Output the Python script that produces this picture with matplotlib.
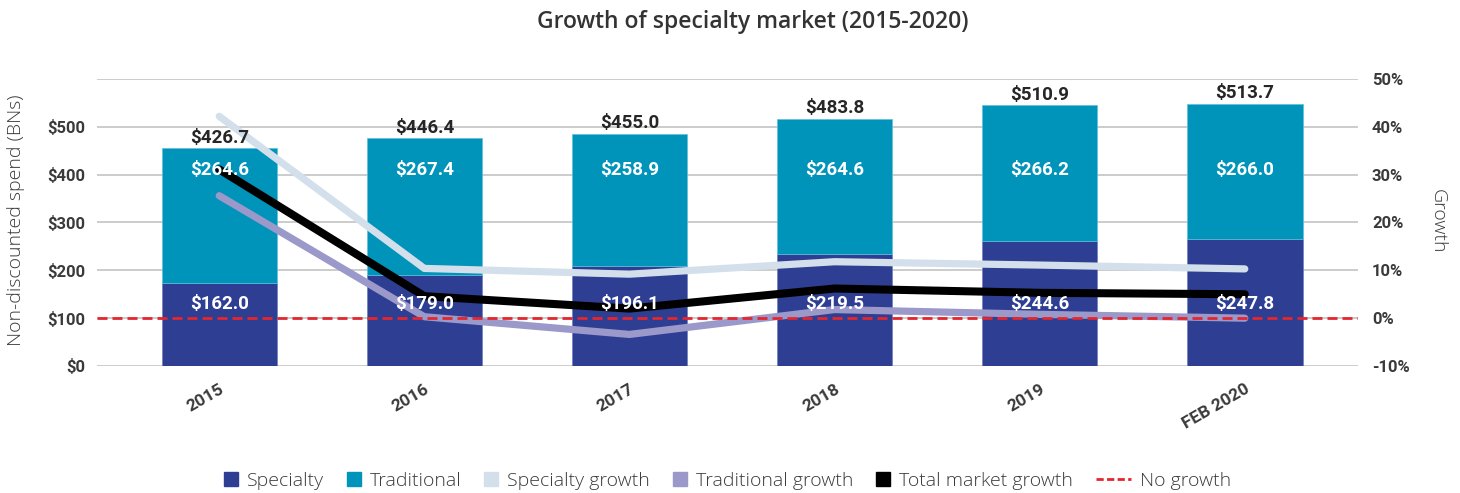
import matplotlib.pyplot as plt
import numpy as np
from matplotlib.patches import Patch
from matplotlib.lines import Line2D
from matplotlib.legend_handler import HandlerLine2D

years = ["2015", "2016", "2017", "2018", "2019", "FEB 2020"]
specialty = [162.0, 179.0, 196.1, 219.5, 244.6, 247.8]
traditional = [264.6, 267.4, 258.9, 264.6, 266.2, 266.0]
totals = [426.7, 446.4, 455.0, 483.8, 510.9, 513.7]

# growth in %
specialty_growth = [42.2, 10.4, 9.2, 11.8, 11.1, 10.3]
traditional_growth = [25.6, 0.3, -3.4, 1.8, 0.8, 0.0]
total_growth = [31.1, 4.6, 2.0, 6.2, 5.3, 5.0]

dollar_ticks = [0, 100, 200, 300, 400, 500, 600]
growth_ticks = [-10, 0, 10, 20, 30, 40, 50]

c_spec = '#2E3E93'
c_trad = '#0094BA'
c_spec_g = '#D3E0EB'
c_trad_g = '#9B98CA'
c_red = '#E4262E'
txt = '#3A3A3A'

bold_font = ['Roboto', 'DejaVu Sans']
light_font = ['Open Sans', 'DejaVu Sans']

# the bars in the source are drawn on a slightly different scale than
# the dollar tick labels suggest, keep that look
tick_scale = 0.937


class WideLineHandler(HandlerLine2D):
    def legend_artist(self, legend, orig_handle, fontsize, handlebox):
        handlebox.width = handlebox.width * 2.5
        return super().legend_artist(legend, orig_handle, fontsize, handlebox)


fig = plt.figure(figsize=(14.6, 4.93), dpi=100)
ax = fig.add_axes([97 / 1460, 127 / 493, 1261 / 1460, 287 / 493])
ax2 = ax.twinx()

x = np.arange(len(years))
ax.bar(x, specialty, width=0.563, color=c_spec, edgecolor='#6F7FC0', linewidth=0.5, zorder=2)
ax.bar(x, traditional, width=0.563, bottom=specialty, color=c_trad, edgecolor='#5FC0DA',
       linewidth=0.5, zorder=2)

ax.set_xlim(-0.596, len(years) - 1 + 0.552)
ax.set_ylim(0, dollar_ticks[-1] * tick_scale)
ax.set_yticks(np.array(dollar_ticks) * tick_scale)
ax.set_yticklabels(['$%d' % v for v in dollar_ticks[:-1]] + [''])
ax.grid(axis='y', color='#BFBFBF', linewidth=1.1, zorder=0)
ax.set_axisbelow(True)
ax.tick_params(axis='y', length=0, pad=8.6, labelsize=12, labelcolor=txt)
for lab in ax.get_yticklabels():
    lab.set_family(bold_font)
    lab.set_fontweight('bold')

ax.set_xticks(x)
ax.set_xticklabels(years, rotation=30, ha='right', va='top', rotation_mode='anchor')
ax.tick_params(axis='x', length=0, pad=11, labelsize=12.5, labelcolor=txt)
for lab in ax.get_xticklabels():
    lab.set_family(bold_font)
    lab.set_fontweight('bold')

ax2.plot(x, specialty_growth, color=c_spec_g, lw=5.2, solid_capstyle='round',
         solid_joinstyle='round', zorder=3)
ax2.plot(x, traditional_growth, color=c_trad_g, lw=5.2, solid_capstyle='round',
         solid_joinstyle='round', zorder=4)
ax2.plot(x, total_growth, color='black', lw=5.8, solid_capstyle='round',
         solid_joinstyle='round', zorder=5)
ax2.axhline(0, color=c_red, lw=2, dashes=(3.6, 1.8), zorder=6)
ax2.set_ylim(growth_ticks[0], growth_ticks[-1])
ax2.set_yticks(growth_ticks)
ax2.set_yticklabels(['%d%%' % v for v in growth_ticks])
ax2.tick_params(axis='y', length=0, pad=10, labelsize=12, labelcolor=txt)
for lab in ax2.get_yticklabels():
    lab.set_family(bold_font)
    lab.set_fontweight('bold')

for a in (ax, ax2):
    for s in a.spines.values():
        s.set_visible(False)

# value labels (on ax2 so they sit above the lines)
xt = ax2.get_xaxis_transform()
for i in range(len(years)):
    ax2.text(x[i], 0.216, '$%.1f' % specialty[i], transform=xt, ha='center', va='center',
             color='white', fontsize=13.5, fontweight='bold', family=bold_font, zorder=10)
    ax2.text(x[i], 0.683, '$%.1f' % traditional[i], transform=xt, ha='center', va='center',
             color='white', fontsize=13.5, fontweight='bold', family=bold_font, zorder=10)
    ax2.annotate('$%.1f' % totals[i], xy=(x[i], specialty[i] + traditional[i]),
                 xycoords=ax.transData, xytext=(0, 1), textcoords='offset points',
                 ha='center', va='bottom', color='#262626', fontsize=13.5,
                 fontweight='bold', family=bold_font, zorder=10)

fig.text(753 / 1460, 1 - 22 / 493, 'Growth of specialty market (2015-2020)', ha='center',
         va='center', fontsize=16.5, color='#333333', family=light_font, fontweight='semibold')
fig.text(16 / 1460, 1 - 220 / 493, 'Non-discounted spend (BNs)', rotation=90, ha='center',
         va='center', fontsize=14, color=txt, family=light_font, fontweight='light')
fig.text(1438 / 1460, 1 - 221 / 493, 'Growth', rotation=270, ha='center', va='center',
         fontsize=14, color=txt, family=light_font, fontweight='light')

handles = [Patch(color=c_spec), Patch(color=c_trad), Patch(color=c_spec_g),
           Patch(color=c_trad_g), Patch(color='black'),
           Line2D([], [], color=c_red, lw=2, dashes=(2.6, 1.2))]
labels = ['Specialty', 'Traditional', 'Specialty growth', 'Traditional growth',
          'Total market growth', 'No growth']
leg = ax2.legend(handles, labels, loc='center', bbox_to_anchor=(0.5, -115 / 287), ncol=6,
                 frameon=False, fontsize=14, handlelength=0.72, handleheight=0.72,
                 handletextpad=0.46, columnspacing=1.18, borderpad=0,
                 handler_map={Line2D: WideLineHandler()},
                 prop={'family': light_font, 'weight': 'light', 'size': 14})
for t in leg.get_texts():
    t.set_color(txt)

fig.savefig('out.png', dpi=100)
